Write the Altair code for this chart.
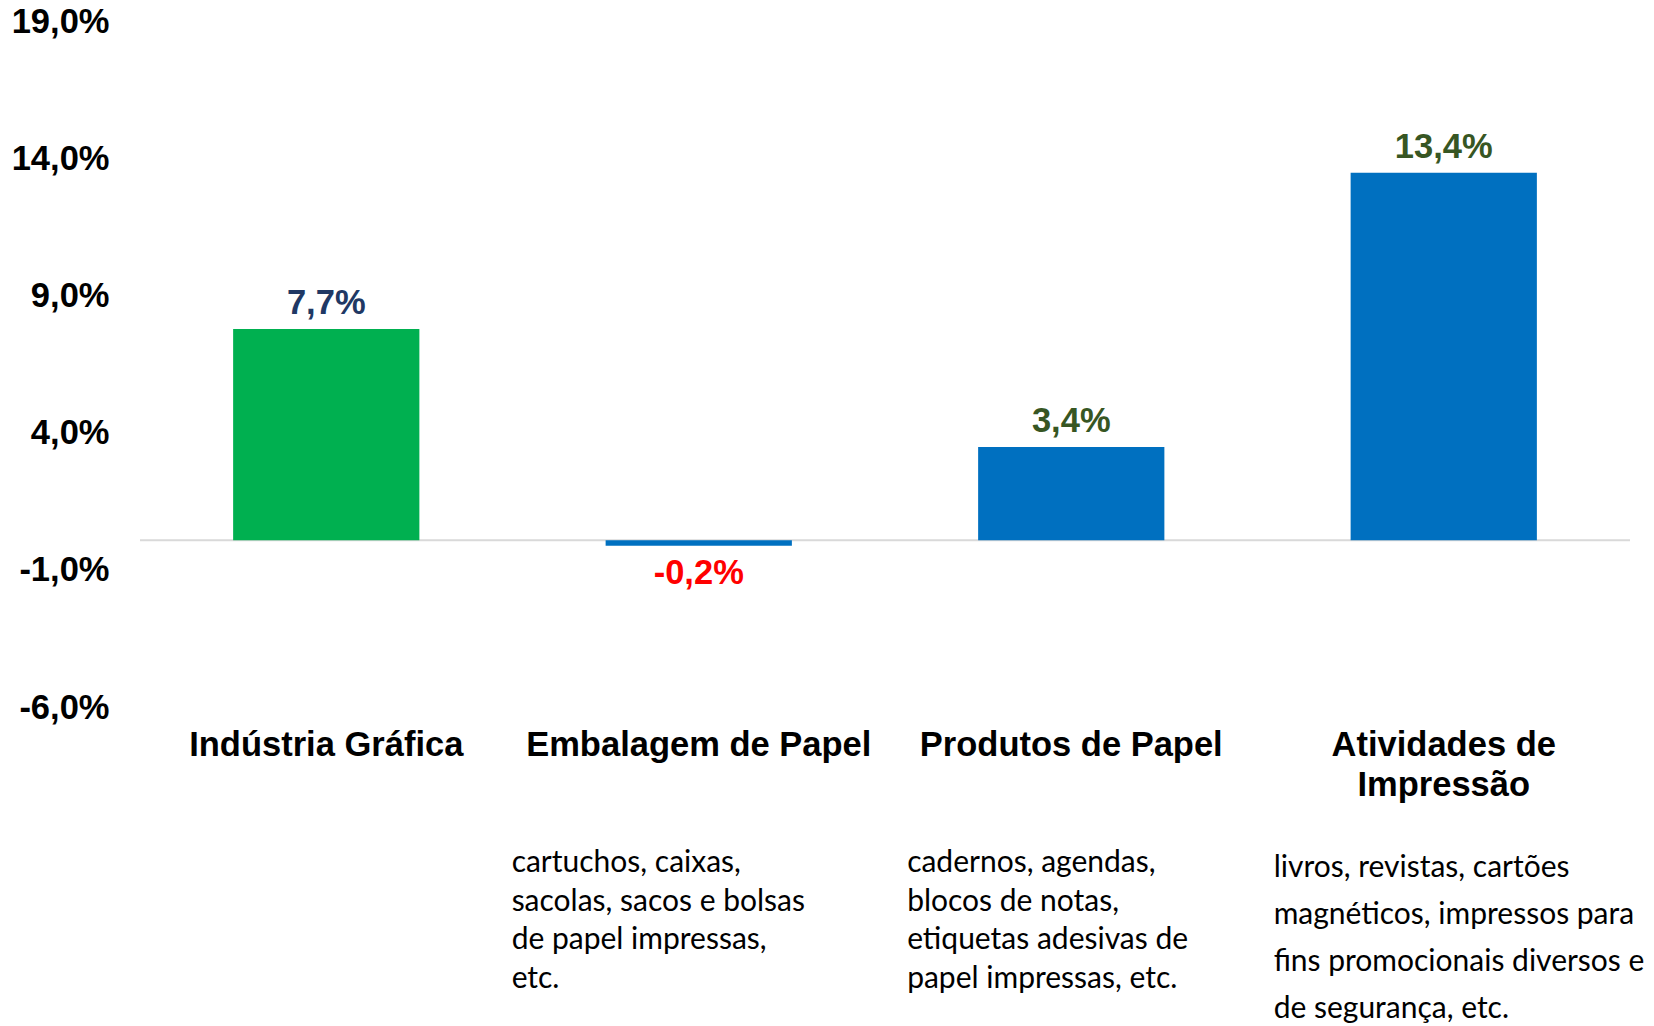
import altair as alt
import pandas as pd

# ---- data -------------------------------------------------------------
categorias = ["Indústria Gráfica", "Embalagem de Papel", "Produtos de Papel", "Atividades de Impressão"]
variacao = [7.7, -0.2, 3.4, 13.4]
linhas_rotulo = {"Atividades de Impressão": ["Atividades de", "Impressão"]}
descricoes = [
    [],
    ["cartuchos, caixas,", "sacolas, sacos e bolsas", "de papel impressas,", "etc."],
    ["cadernos, agendas,", "blocos de notas,", "etiquetas adesivas de", "papel impressas, etc."],
    ["livros, revistas, cartões", "magnéticos, impressos para", "fins promocionais diversos e", "de segurança, etc."],
]
y_ticks = [-6, -1, 4, 9, 14, 19]

df = pd.DataFrame({
    "categoria": categorias,
    "variacao": variacao,
    "descricao": ["\n".join(d) for d in descricoes],
})

# ---- styles ----------------------------------------------------------
ARIAL = "Liberation Sans"
DESC_FONT = "Lato"
FS = 34.5
cores_barras = ["#00B050", "#0070C0", "#0070C0", "#0070C0"]

label_expr = " : ".join(
    [f"datum.value == '{k}' ? {v!r}" for k, v in linhas_rotulo.items()] + ["datum.value"]
)
pct_expr = "replace(replace(format({v}, '.1f'), '.', ','), '\u2212', '-') + '%'"

x_scale = alt.Scale(domain=categorias, paddingInner=0.5, paddingOuter=0.25)
x_enc = alt.X(
    "categoria:N",
    sort=categorias,
    scale=x_scale,
    axis=alt.Axis(
        title=None, domain=False, ticks=False, grid=False,
        labelFont=ARIAL, labelFontSize=FS, labelFontWeight="bold",
        labelColor="#000000", labelPadding=23, labelLineHeight=40,
        labelAngle=0, labelExpr=label_expr, labelLimit=0,
    ),
)
y_scale = alt.Scale(domain=[-6, 19], nice=False, zero=False)
y_axis = alt.Axis(
    title=None, values=y_ticks, domain=False, ticks=False, grid=False,
    labelFont=ARIAL, labelFontSize=FS, labelFontWeight="bold", labelColor="#000000",
    labelPadding=31, labelOffset=3,
    labelExpr=pct_expr.format(v="datum.value"),
)

base = alt.Chart(df).transform_calculate(rotulo=pct_expr.format(v="datum.variacao"))

zero_line = alt.Chart(pd.DataFrame({"z": [0]})).mark_rule(
    color="#D9D9D9", strokeWidth=2
).encode(y=alt.Y("z:Q", scale=y_scale, axis=y_axis))

bars = base.mark_bar().encode(
    x=x_enc,
    y=alt.Y("variacao:Q", scale=y_scale, axis=y_axis),
    color=alt.Color("categoria:N", scale=alt.Scale(domain=categorias, range=cores_barras), legend=None),
)

label_color = {
    "condition": [
        {"test": "datum.variacao < 0", "value": "#FF0000"},
        {"test": f"datum.categoria == '{categorias[0]}'", "value": "#203864"},
    ],
    "value": "#375623",
}

pos_labels = base.transform_filter("datum.variacao >= 0").mark_text(
    font=ARIAL, fontSize=FS, fontWeight="bold", baseline="middle", dy=-25
).encode(x=x_enc, y=alt.Y("variacao:Q", scale=y_scale), text="rotulo:N", color=label_color)

neg_labels = base.transform_filter("datum.variacao < 0").mark_text(
    font=ARIAL, fontSize=FS, fontWeight="bold", baseline="middle", dy=28
).encode(x=x_enc, y=alt.Y("variacao:Q", scale=y_scale), text="rotulo:N", color=label_color)


def desc_layer(cat, dx, top, line_height):
    return base.transform_filter(f"datum.categoria == '{cat}'").mark_text(
        font=DESC_FONT, fontSize=30, align="left", baseline="top",
        lineBreak="\n", lineHeight=line_height, dx=dx, color="#000000",
    ).encode(
        x=alt.X("categoria:N", sort=categorias, bandPosition=0, scale=x_scale),
        y=alt.value(top),
        text="descricao:N",
    )


d1 = desc_layer(categorias[1], -94, 829, 38.5)
d2 = desc_layer(categorias[2], -71, 829, 38.5)
d3 = desc_layer(categorias[3], -77, 834, 47)

chart = alt.layer(zero_line, bars, pos_labels, neg_labels, d1, d2, d3).properties(
    width=1490,
    height=686,
    autosize=alt.AutoSizeParams(type="none"),
    padding={"left": 132, "top": 11, "right": 16, "bottom": 321},
    background="white",
).configure_view(stroke=None)

chart.save("out.html", embed_options={"renderer": "svg", "actions": False})
